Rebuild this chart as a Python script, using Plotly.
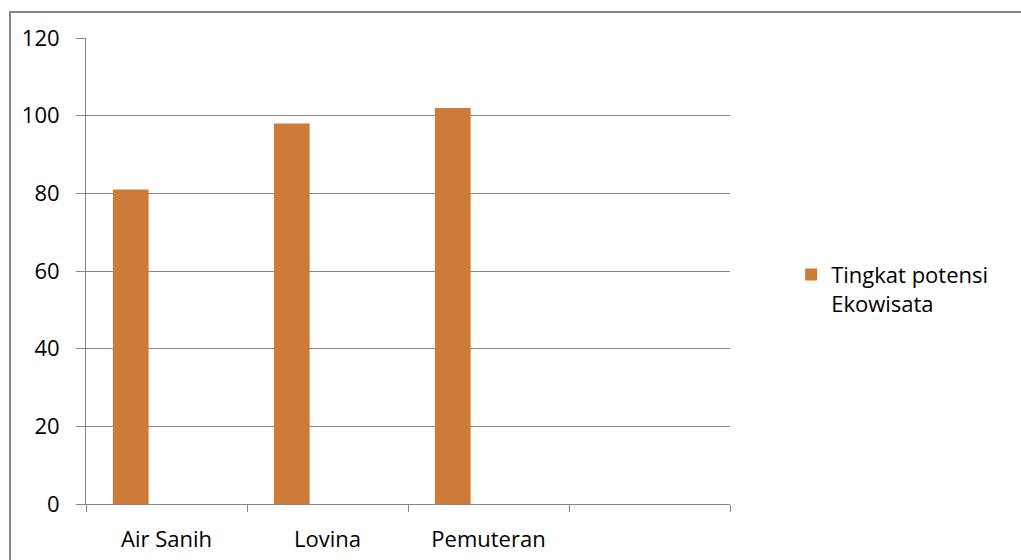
import plotly.graph_objects as go

categories = ["Air Sanih", "Lovina", "Pemuteran", " "]
values = [81, 98, 102, None]
series_name = "Tingkat potensi<br>Ekowisata"
y_ticks = [0, 20, 40, 60, 80, 100, 120]

BAR_COLOR = "#CD7B38"
GRID = "#878787"
FONT = "Open Sans"

fig = go.Figure()
fig.add_trace(go.Bar(
    x=categories, y=values, name=series_name,
    marker=dict(color=BAR_COLOR, line=dict(width=0)),
    width=0.222, offset=-0.333,
    showlegend=True,
))

fig.update_layout(
    width=1021, height=560,
    margin=dict(l=86, r=291, t=38, b=56, autoexpand=False),
    paper_bgcolor="white", plot_bgcolor="white",
    font=dict(family=FONT, size=22, color="black"),
    showlegend=True,
    legend=dict(x=1.095, y=0.461, xanchor="left", yanchor="middle",
                valign="top", font=dict(family=FONT, size=22, color="black"),
                bgcolor="rgba(0,0,0,0)"),
    xaxis=dict(
        type="category", categoryorder="array", categoryarray=categories,
        range=[-0.5, 3.5], showgrid=False, showline=True, linecolor=GRID, linewidth=1,
        ticks="outside", tickson="boundaries", ticklen=7, tickcolor=GRID, tickwidth=1,
        ticklabelstandoff=16, zeroline=False, automargin=False,
    ),
    yaxis=dict(
        range=[0, 120], tickvals=y_ticks, showgrid=True, gridcolor=GRID, gridwidth=1,
        showline=True, linecolor=GRID, linewidth=1, ticks="outside", ticklen=9,
        tickcolor=GRID, tickwidth=1, zeroline=False, ticklabelstandoff=12,
        automargin=False,
    ),
    bargap=0.333,
    shapes=[dict(type="rect", xref="paper", yref="paper",
                 x0=(10 - 86) / 644, x1=1.6, y0=-0.3, y1=1 + (38 - 12) / 466,
                 line=dict(color="#888888", width=2), fillcolor="rgba(0,0,0,0)",
                 layer="below")],
)

fig.write_html("out.html")
